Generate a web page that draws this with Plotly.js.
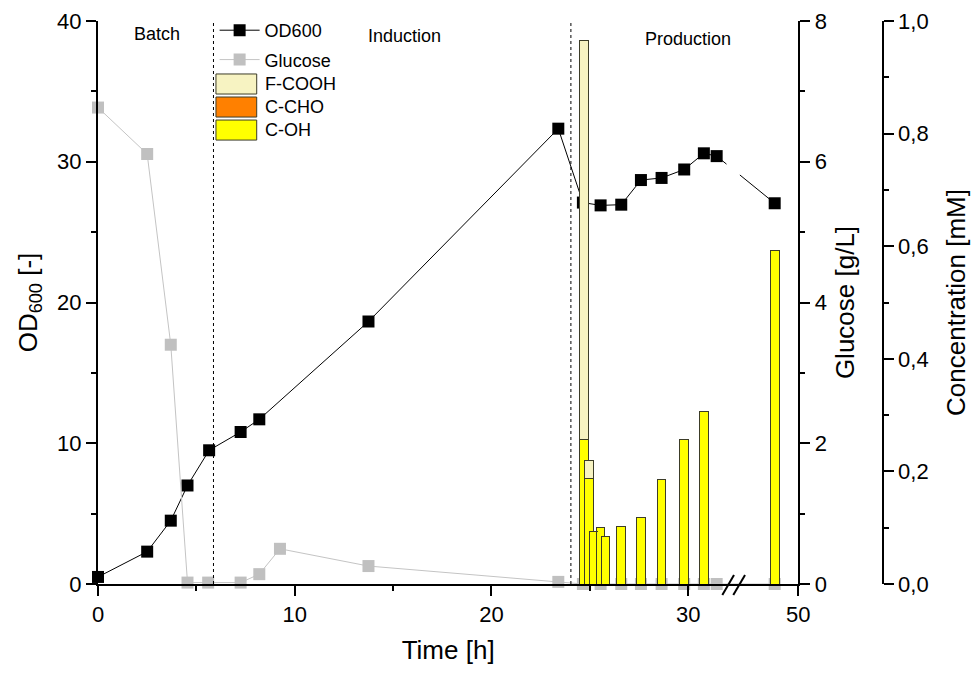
<!DOCTYPE html>
<html>
<head>
<meta charset="utf-8">
<script src="https://cdn.plot.ly/plotly-3.0.1.min.js"></script>
<style>html,body{margin:0;padding:0;background:#fff}#chart{width:971px;height:673px}</style>
</head>
<body>
<div id="chart"></div>
<script>
// ---- data (time in hours) ----
const odTime  = [0, 2.5, 3.7, 4.55, 5.65, 7.25, 8.2, 13.75, 23.4, 24.65, 25.55, 26.6, 27.6, 28.65, 29.8, 30.8, 31.45, 48.8];
const od600   = [0.5, 2.3, 4.5, 7.0, 9.5, 10.8, 11.7, 18.65, 32.35, 27.1, 26.9, 26.95, 28.7, 28.85, 29.45, 30.6, 30.4, 27.05];

const glcTime = [0, 2.5, 3.7, 4.55, 5.6, 7.25, 8.2, 9.25, 13.75, 23.4, 24.65, 25.55, 26.6, 27.6, 28.65, 29.8, 30.8, 31.45, 48.8];
const glucose = [6.77, 6.11, 3.40, 0.02, 0.02, 0.02, 0.14, 0.50, 0.255, 0.03, 0, 0, 0, 0, 0, 0, 0, 0, 0];

const barTime = [24.7, 24.95, 25.2, 25.55, 25.8, 26.6, 27.6, 28.65, 29.8, 30.8, 48.8];
const cOH     = [0.256, 0.188, 0.094, 0.100, 0.085, 0.102, 0.118, 0.185, 0.256, 0.306, 0.593];
const cCHO    = [0, 0, 0, 0, 0, 0, 0, 0, 0, 0, 0];
const fCOOH   = [0.710, 0.031, 0, 0, 0, 0, 0, 0, 0, 0, 0];

const tickHours  = [0, 10, 20, 30, 50];
const tickLabels = ['0', '10', '20', '30', '50'];
const minorHours = [5, 15, 25];
const phaseBounds = [5.87, 24.04];
const phaseNames = ['Batch', 'Induction', 'Production'];

const barNames  = ['F-COOH', 'C-CHO', 'C-OH'];
const barColors = {'F-COOH': '#f7f3c2', 'C-CHO': '#ff8000', 'C-OH': '#ffff00'};

// ---- broken time axis ----
const BREAK_AT = 33, BREAK_SHIFT = 14.4;
const toAxis = t => (t > BREAK_AT ? t - BREAK_SHIFT : t);

const FONT = 'Liberation Sans, Arial, Helvetica, sans-serif';
const barLine = {color: '#3c3c28', width: 1};

const traces = [
  {x: odTime.map(toAxis), y: od600, name: 'OD600', type: 'scatter', mode: 'lines+markers',
   line: {color: '#000', width: 1}, marker: {symbol: 'square', size: 12, color: '#000'},
   cliponaxis: false, legendgroup: 'a', xaxis: 'x', yaxis: 'y'},
  {x: glcTime.map(toAxis), y: glucose, name: 'Glucose', type: 'scatter', mode: 'lines+markers',
   line: {color: '#c4c4c4', width: 1}, marker: {symbol: 'square', size: 12, color: '#c0c0c0'},
   cliponaxis: false, legendgroup: 'b', xaxis: 'x', yaxis: 'y2'},
  {x: barTime.map(toAxis), y: cOH, name: 'C-OH', type: 'bar', width: 0.44, showlegend: false,
   marker: {color: barColors['C-OH'], line: barLine}, xaxis: 'x', yaxis: 'y3'},
  {x: barTime.map(toAxis), y: cCHO, name: 'C-CHO', type: 'bar', width: 0.44, showlegend: false,
   marker: {color: barColors['C-CHO'], line: barLine}, xaxis: 'x', yaxis: 'y3'},
  {x: barTime.map(toAxis), y: fCOOH, name: 'F-COOH', type: 'bar', width: 0.44, showlegend: false,
   marker: {color: barColors['F-COOH'], line: barLine}, xaxis: 'x', yaxis: 'y3'}
];

const axisCommon = {
  showline: true, linecolor: '#000', linewidth: 2, showgrid: false, zeroline: false,
  ticks: 'outside', ticklen: 10, tickwidth: 2, tickcolor: '#000',
  tickfont: {family: FONT, size: 22, color: '#000'}
};

const shapes = phaseBounds.map(b => ({
  type: 'line', xref: 'x', yref: 'paper', x0: toAxis(b), x1: toAxis(b), y0: 0, y1: 1,
  line: {color: '#000', width: 1, dash: '3px,3px'}
}));
// gap in the OD line at the axis break
shapes.push({type: 'rect', xref: 'x', yref: 'paper', x0: 31.95, x1: 32.63, y0: 0.05, y1: 0.95,
  fillcolor: '#fff', line: {width: 0}, layer: 'above'});
// break marks
shapes.push({type: 'line', xref: 'paper', yref: 'paper', x0: 0.7923, y0: -0.0195, x1: 0.8071, y1: 0.016,
  line: {color: '#000', width: 2}});
shapes.push({type: 'line', xref: 'paper', yref: 'paper', x0: 0.8062, y0: -0.0195, x1: 0.8211, y1: 0.016,
  line: {color: '#000', width: 2}});

// legend swatches for the bar series (larger than Plotly's default squares)
const swX0 = 0.1497, swX1 = 0.2014, swTop = 0.9059, swH = 0.0356, swStep = 0.0409;
const annotations = [];
barNames.forEach((n, i) => {
  const top = swTop - i * swStep;
  shapes.push({type: 'rect', xref: 'paper', yref: 'paper', x0: swX0, x1: swX1, y0: top - swH, y1: top,
    fillcolor: barColors[n], line: {color: '#3c3c28', width: 1}});
  annotations.push({text: n, xref: 'paper', yref: 'paper', x: 0.2094, y: top - swH / 2,
    xanchor: 'left', yanchor: 'middle', showarrow: false, font: {family: FONT, size: 18, color: '#000'}});
});

const phaseLabelX = [3.0, 15.6, 30.0];
const phaseLabelY = [39.1, 38.95, 38.7];
phaseNames.forEach((n, i) => annotations.push({
  text: n, x: phaseLabelX[i], y: phaseLabelY[i], xref: 'x', yref: 'y',
  showarrow: false, font: {family: FONT, size: 18, color: '#000'}
}));

const layout = {
  width: 971, height: 673,
  margin: {l: 98, r: 85, t: 21, b: 89},
  paper_bgcolor: '#fff', plot_bgcolor: 'rgba(0,0,0,0)',
  separators: ',.',
  barmode: 'stack',
  font: {family: FONT, color: '#000'},
  showlegend: true,
  legend: {x: 0.148, y: 1.016, xanchor: 'left', yanchor: 'top', bgcolor: 'rgba(0,0,0,0)',
    font: {family: FONT, size: 18, color: '#000'}, traceorder: 'grouped', itemwidth: 40,
    tracegroupgap: 3},
  xaxis: Object.assign({}, axisCommon, {
    domain: [0, 0.8887], range: [0, toAxis(50)], tickmode: 'array',
    tickvals: tickHours.map(toAxis), ticktext: tickLabels,
    minor: {tickmode: 'array', tickvals: minorHours.map(toAxis), ticks: 'outside', ticklen: 5, tickwidth: 2, tickcolor: '#000'},
    title: {text: 'Time [h]', font: {family: FONT, size: 26, color: '#000'}, standoff: 14}
  }),
  yaxis: Object.assign({}, axisCommon, {
    range: [0, 40], tickmode: 'linear', tick0: 0, dtick: 10,
    minor: {dtick: 5, ticks: 'outside', ticklen: 5, tickwidth: 2, tickcolor: '#000'},
    title: {text: 'OD<sub>600</sub> [-]', font: {family: FONT, size: 26, color: '#000'}, standoff: 12}
  }),
  yaxis2: Object.assign({}, axisCommon, {
    overlaying: 'y', side: 'right', anchor: 'x', range: [0, 8], tickmode: 'linear', tick0: 0, dtick: 2,
    minor: {dtick: 1, ticks: 'outside', ticklen: 5, tickwidth: 2, tickcolor: '#000'},
    title: {text: 'Glucose [g/L]', font: {family: FONT, size: 26, color: '#000'}, standoff: 10}
  }),
  yaxis3: Object.assign({}, axisCommon, {
    overlaying: 'y', side: 'right', anchor: 'free', position: 0.9958, range: [0, 1],
    tickmode: 'linear', tick0: 0, dtick: 0.2, tickformat: '.1f',
    minor: {dtick: 0.1, ticks: 'outside', ticklen: 5, tickwidth: 2, tickcolor: '#000'},
    title: {text: 'Concentration [mM]', font: {family: FONT, size: 26, color: '#000'}, standoff: 19}
  }),
  shapes: shapes,
  annotations: annotations
};

Plotly.newPlot('chart', traces, layout, {displayModeBar: false, staticPlot: true});
</script>
</body>
</html>
